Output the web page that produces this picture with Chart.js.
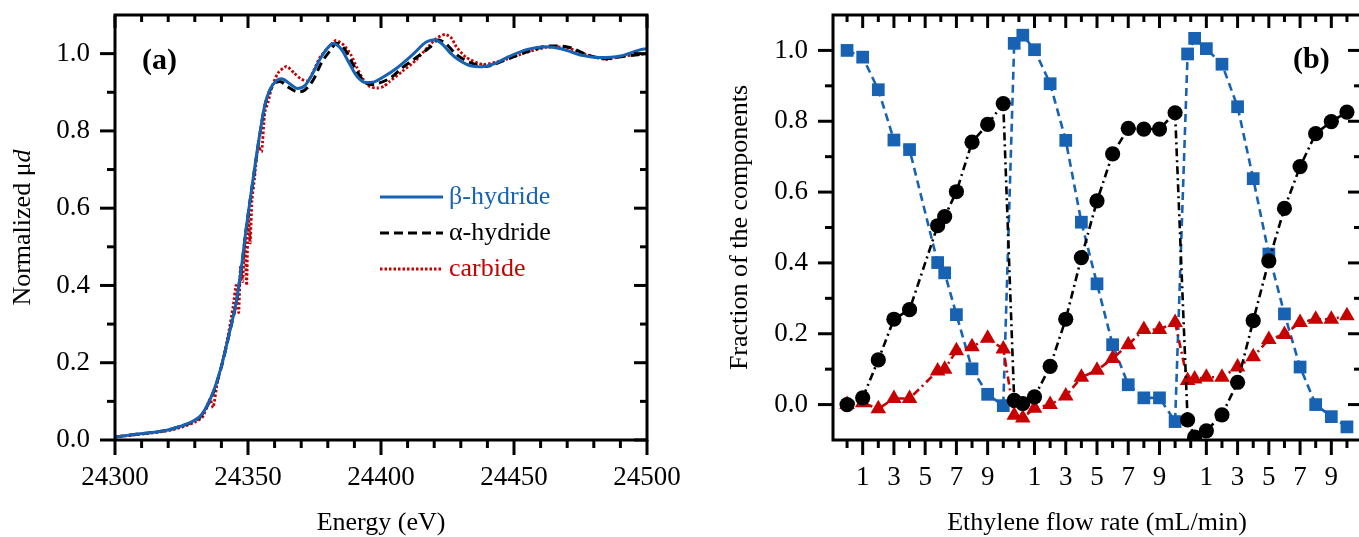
<!DOCTYPE html>
<html><head><meta charset="utf-8">
<script src="https://cdn.jsdelivr.net/npm/chart.js@4.4.1/dist/chart.umd.min.js"></script>
<style>
html,body{margin:0;padding:0;background:#fff;overflow:hidden;width:1359px;height:537px;}
#ca{position:absolute;left:0;top:0;}
#cb{position:absolute;left:700px;top:0;}
</style></head><body>
<canvas id="ca" width="680" height="537"></canvas>
<canvas id="cb" width="680" height="537"></canvas>
<script>
// ---------- Panel (a) data: XANES spectra ----------
const betaEnergy = [24300,24309.4,24319.4,24324.4,24329.4,24332.6,24336.9,24340.1,24343.2,24345.7,24347.6,24349.5,24352,24354.5,24356.3,24358.2,24360.7,24362.6,24365.7,24368.5,24371.5,24374,24377,24380,24382,24385,24388,24391,24394.5,24397.5,24401,24406,24412,24417,24420,24423,24426,24429,24434,24438,24443,24448,24455,24462,24468,24476,24482,24490,24497,24500];
const betaMu = [0.008,0.016,0.025,0.035,0.049,0.066,0.124,0.194,0.283,0.362,0.451,0.557,0.680,0.795,0.866,0.906,0.930,0.935,0.922,0.910,0.918,0.945,0.985,1.015,1.026,1.012,0.976,0.941,0.925,0.927,0.940,0.963,0.998,1.030,1.036,1.025,1.002,0.985,0.968,0.966,0.975,0.992,1.011,1.018,1.012,0.995,0.990,0.994,1.009,1.013];

const alphaEnergy = [24300,24309.4,24319.4,24324.4,24329.4,24332.6,24336.9,24340.1,24343.2,24345.7,24347.6,24349.5,24352,24354.5,24356.3,24358.2,24360.7,24362,24365,24368.8,24371.4,24374.5,24377.6,24380.8,24383.3,24386.4,24389.5,24392.7,24395.8,24398.3,24403.3,24408.3,24413.3,24418.3,24421.5,24424,24428.3,24434.6,24439.6,24447.1,24455.9,24463.4,24470.9,24477.1,24484.6,24492.2,24500];
const alphaMu = [0.008,0.016,0.025,0.035,0.048,0.064,0.122,0.192,0.282,0.360,0.450,0.555,0.678,0.793,0.864,0.904,0.926,0.928,0.914,0.901,0.906,0.932,0.976,1.007,1.027,1.011,0.972,0.936,0.920,0.922,0.936,0.965,0.990,1.016,1.035,1.028,0.998,0.974,0.967,0.985,1.007,1.020,1.016,0.998,0.987,0.994,1.000];

const carbEnergy = [24300,24310,24320,24325,24330,24333,24335.7,24336.9,24338.5,24340.7,24342.5,24344.4,24345.5,24346.5,24347.2,24348,24348.8,24349.5,24350.1,24350.8,24351.5,24352.5,24353.8,24355.1,24356.3,24357.6,24358.8,24361.3,24364.5,24367.3,24370,24372.6,24374.8,24377,24380,24383,24386,24388.6,24391,24393.3,24395.8,24398.5,24401,24403.3,24408,24413,24418,24421,24424.2,24426.5,24428.3,24432.1,24438.3,24447,24454.6,24462,24469.6,24477,24484.6,24491,24500];
const carbMu = [0.008,0.015,0.024,0.033,0.046,0.060,0.106,0.084,0.150,0.212,0.270,0.345,0.400,0.330,0.450,0.410,0.520,0.400,0.590,0.510,0.620,0.680,0.760,0.746,0.848,0.875,0.910,0.950,0.967,0.950,0.934,0.930,0.958,0.990,1.015,1.034,1.022,0.998,0.963,0.934,0.915,0.911,0.915,0.928,0.954,0.982,1.020,1.040,1.050,1.040,1.018,0.990,0.972,0.985,1.003,1.016,1.016,0.998,0.985,0.994,0.999];

const aXMajor = [24300,24350,24400,24450,24500];
const aXMinor = [24310,24320,24330,24340,24360,24370,24380,24390,24410,24420,24430,24440,24460,24470,24480,24490];
const aYMajor = [0,0.2,0.4,0.6,0.8,1.0];
const aYMinor = [0.1,0.3,0.5,0.7,0.9];

// ---------- Panel (b) data: fractions vs ethylene flow (3 cycles) ----------
const flowPos = [0,1,2,3,4,5.8,6.25,7,8,9,10,
                 10.7,11.25,12,13,14,15,16,17,18,19,20,21,
                 21.8,22.25,23,24,25,26,27,28,29,30,31,32];
const betaFrac = [1.000,0.981,0.889,0.747,0.720,0.401,0.372,0.254,0.101,0.029,-0.003,
                  1.020,1.043,1.002,0.906,0.746,0.515,0.341,0.169,0.056,0.019,0.019,-0.048,
                  0.990,1.034,1.005,0.961,0.841,0.638,0.425,0.256,0.106,0.000,-0.034,-0.063];
const alphaFrac = [0.000,0.019,0.126,0.241,0.268,0.505,0.531,0.601,0.741,0.791,0.850,
                   0.012,0.003,0.022,0.108,0.241,0.415,0.575,0.708,0.780,0.778,0.778,0.824,
                   -0.043,-0.092,-0.074,-0.029,0.063,0.237,0.406,0.554,0.672,0.765,0.799,0.826];
const carbFrac = [0.000,0.005,-0.012,0.017,0.017,0.095,0.100,0.152,0.163,0.187,0.157,
                  -0.030,-0.038,-0.010,0.000,0.024,0.077,0.097,0.130,0.169,0.212,0.212,0.232,
                  0.068,0.072,0.077,0.077,0.106,0.135,0.184,0.198,0.232,0.241,0.241,0.251];
const flowTickLabels = ['1','3','5','7','9'];
const cycleLength = 11;
const bXMajor = [1,3,5,7,9,12,14,16,18,20,23,25,27,29,31];
const bXMinor = [0,2,4,6,8,10,11,13,15,17,19,21,22,24,26,28,30,32];
const bYMajor = [0,0.2,0.4,0.6,0.8,1.0];
const bYMinor = [0.1,0.3,0.5,0.7,0.9];

// ---------- styling ----------
const BLUE = '#1762b2', RED = '#c90000', BLACK = '#000000';
const FONT = "'Liberation Serif', 'Times New Roman', serif";
const pts = (xs, ys) => xs.map((x, i) => ({x, y: ys[i]}));

const frameTicks = {
  id: 'frameTicks',
  afterDatasetsDraw(chart, args, o) {
    const {ctx, chartArea: a} = chart;
    const sx = chart.scales.x, sy = chart.scales.y;
    ctx.save();
    ctx.strokeStyle = '#000'; ctx.lineWidth = 3; ctx.lineCap = 'butt';
    const seg = (x1, y1, x2, y2) => { ctx.beginPath(); ctx.moveTo(x1, y1); ctx.lineTo(x2, y2); ctx.stroke(); };
    o.xMajor.forEach(v => { const p = sx.getPixelForValue(v); seg(p, a.bottom, p, a.bottom + 15); seg(p, a.top, p, a.top + 13); });
    o.xMinor.forEach(v => { const p = sx.getPixelForValue(v); seg(p, a.bottom, p, a.bottom + 8); seg(p, a.top, p, a.top + 7); });
    o.yMajor.forEach(v => { const p = sy.getPixelForValue(v); seg(a.left, p, a.left - 15, p); seg(a.right, p, a.right - 13, p); });
    o.yMinor.forEach(v => { const p = sy.getPixelForValue(v); seg(a.left, p, a.left - 8, p); seg(a.right, p, a.right - 7, p); });
    ctx.strokeRect(a.left, a.top, a.right - a.left, a.bottom - a.top);
    ctx.restore();
  }
};

const annotations = {
  id: 'annotations',
  afterDraw(chart, args, o) {
    const ctx = chart.ctx;
    ctx.save();
    (o.texts || []).forEach(t => {
      ctx.font = t.font; ctx.fillStyle = t.color || '#000';
      ctx.textAlign = 'left'; ctx.textBaseline = 'middle';
      ctx.fillText(t.text, t.x, t.y);
    });
    if (o.legend) {
      const L = o.legend;
      chart.data.datasets.forEach((ds, i) => {
        const y = L.y0 + i * L.dy;
        ctx.strokeStyle = ds.borderColor; ctx.lineWidth = ds.borderWidth;
        ctx.setLineDash(ds.borderDash || []);
        ctx.beginPath(); ctx.moveTo(L.x0, y); ctx.lineTo(L.x1, y); ctx.stroke();
        ctx.setLineDash([]);
        ctx.font = L.font; ctx.fillStyle = ds.borderColor;
        ctx.textAlign = 'left'; ctx.textBaseline = 'middle';
        ctx.fillText(ds.label, L.tx, y);
      });
    }
    if (o.yTitle) {
      const T = o.yTitle;
      ctx.translate(T.x, T.y); ctx.rotate(-Math.PI / 2);
      ctx.textBaseline = 'middle'; ctx.textAlign = 'left'; ctx.fillStyle = '#000';
      ctx.font = T.font; const w1 = ctx.measureText(T.main).width;
      ctx.font = T.italicFont; const w2 = ctx.measureText(T.italic).width;
      const start = -(w1 + w2) / 2;
      ctx.font = T.font; ctx.fillText(T.main, start, 0);
      ctx.font = T.italicFont; ctx.fillText(T.italic, start + w1, 0);
    }
    ctx.restore();
  }
};

const fitX = h => s => { s.height = h; s.paddingLeft = 0; s.paddingRight = 0; };
const fitY = w => s => { s.width = w; s.paddingTop = 0; s.paddingBottom = 0; };

// ---------- Panel (a) ----------
new Chart(document.getElementById('ca'), {
  type: 'line',
  data: {
    datasets: [
      {label: 'β-hydride', data: pts(betaEnergy, betaMu), borderColor: BLUE, borderWidth: 3, borderDash: [], pointRadius: 0, tension: 0.35, cubicInterpolationMode: 'monotone'},
      {label: 'α-hydride', data: pts(alphaEnergy, alphaMu), borderColor: BLACK, borderWidth: 3, borderDash: [9, 5], pointRadius: 0, tension: 0.35, cubicInterpolationMode: 'monotone'},
      {label: 'carbide', data: pts(carbEnergy, carbMu), borderColor: RED, borderWidth: 2.8, borderDash: [2.5, 2], pointRadius: 0, tension: 0.2}
    ]
  },
  options: {
    responsive: false, animation: false, events: [],
    layout: {padding: {left: 0, top: 15, right: 33, bottom: 0}},
    scales: {
      x: {type: 'linear', min: 24300, max: 24500,
          afterBuildTicks: s => { s.ticks = aXMajor.map(v => ({value: v})); },
          afterFit: fitX(97),
          grid: {display: false, drawTicks: false}, border: {display: false},
          ticks: {padding: 22, color: '#000', font: {family: FONT, size: 27}, callback: v => String(v), maxRotation: 0, autoSkip: false},
          title: {display: true, text: 'Energy (eV)', color: '#000', font: {family: FONT, size: 26, lineHeight: 1}, padding: {top: 0, bottom: 1}}},
      y: {type: 'linear', min: 0, max: 1.1,
          afterBuildTicks: s => { s.ticks = aYMajor.map(v => ({value: v})); },
          afterFit: fitY(115),
          grid: {display: false, drawTicks: false}, border: {display: false},
          ticks: {padding: 25, color: '#000', font: {family: FONT, size: 27}, callback: v => v.toFixed(1)}}
    },
    plugins: {
      legend: {display: false}, tooltip: {enabled: false},
      frameTicks: {xMajor: aXMajor, xMinor: aXMinor, yMajor: aYMajor, yMinor: aYMinor},
      annotations: {
        texts: [{text: '(a)', x: 142, y: 61, font: `bold 30px ${FONT}`}],
        legend: {x0: 380, x1: 443, tx: 449, y0: 197, dy: 36, font: `26px ${FONT}`},
        yTitle: {x: 23, y: 227.5, main: 'Normalized μ', italic: 'd', font: `26px ${FONT}`, italicFont: `italic 26px ${FONT}`}
      }
    }
  },
  plugins: [frameTicks, annotations]
});

// ---------- Panel (b) ----------
new Chart(document.getElementById('cb'), {
  type: 'line',
  data: {
    datasets: [
      {label: 'α-hydride', data: pts(flowPos, alphaFrac), borderColor: BLACK, backgroundColor: BLACK, borderWidth: 2.6, borderDash: [8, 4, 2, 4], pointStyle: 'circle', pointRadius: 7.6, pointBorderWidth: 0, tension: 0},
      {label: 'carbide', data: pts(flowPos, carbFrac), borderColor: RED, backgroundColor: RED, borderWidth: 2.6, borderDash: [8, 4, 2, 4], pointStyle: 'triangle', pointRadius: 9, pointBorderWidth: 0, tension: 0},
      {label: 'β-hydride', data: pts(flowPos, betaFrac), borderColor: BLUE, backgroundColor: BLUE, borderWidth: 2.6, borderDash: [8, 5], pointStyle: 'rect', pointRadius: 9, pointBorderWidth: 0, tension: 0}
    ]
  },
  options: {
    responsive: false, animation: false, events: [],
    layout: {padding: {left: 0, top: 15, right: 19, bottom: 0}},
    scales: {
      x: {type: 'linear', min: -0.9, max: 32.9,
          afterBuildTicks: s => { s.ticks = bXMajor.map(v => ({value: v})); },
          afterFit: fitX(97),
          grid: {display: false, drawTicks: false}, border: {display: false},
          ticks: {padding: 22, color: '#000', font: {family: FONT, size: 27}, maxRotation: 0, autoSkip: false,
                  callback: v => flowTickLabels[((v % cycleLength) - 1) / 2] || ''},
          title: {display: true, text: 'Ethylene flow rate (mL/min)', color: '#000', font: {family: FONT, size: 26, lineHeight: 1}, padding: {top: 0, bottom: 1}}},
      y: {type: 'linear', min: -0.1, max: 1.1,
          afterBuildTicks: s => { s.ticks = bYMajor.map(v => ({value: v})); },
          afterFit: fitY(133),
          grid: {display: false, drawTicks: false}, border: {display: false},
          ticks: {padding: 25, color: '#000', font: {family: FONT, size: 27}, callback: v => v.toFixed(1)},
          title: {display: true, text: 'Fraction of the components', color: '#000', font: {family: FONT, size: 26}, padding: {top: 24.5, bottom: 0}}}
    },
    plugins: {
      legend: {display: false}, tooltip: {enabled: false},
      frameTicks: {xMajor: bXMajor, xMinor: bXMinor, yMajor: bYMajor, yMinor: bYMinor},
      annotations: {texts: [{text: '(b)', x: 593, y: 60, font: `bold 30px ${FONT}`}]}
    }
  },
  plugins: [frameTicks, annotations]
});
</script></body></html>
